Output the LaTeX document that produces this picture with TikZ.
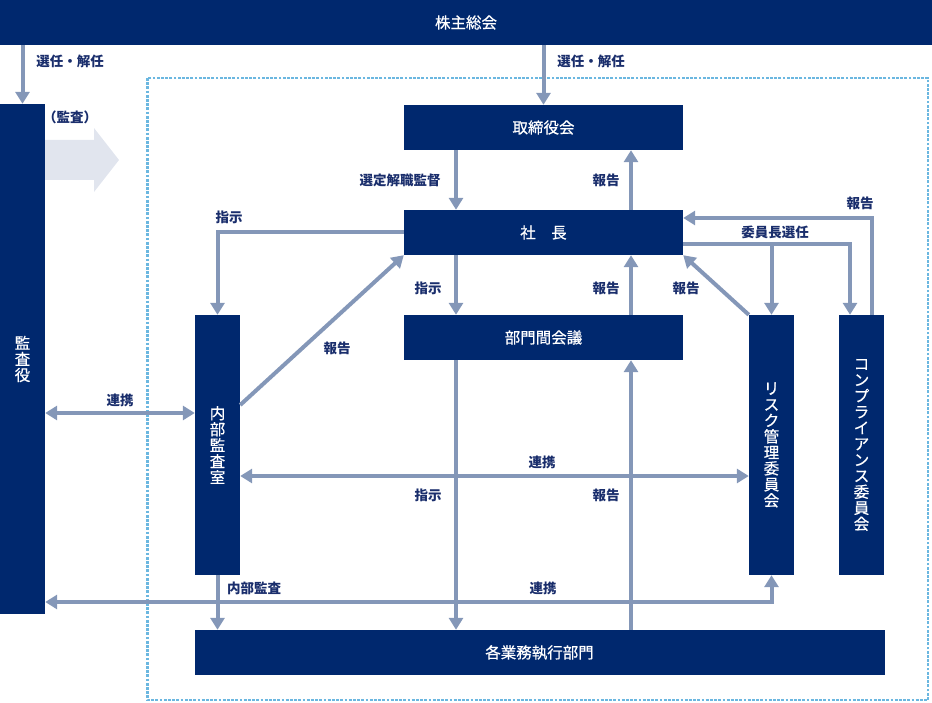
\documentclass[tikz,border=0pt]{standalone}
\usepackage{fontspec}
\setmainfont{Noto Sans CJK JP}
\newfontfamily\boxface[FakeBold=0.6]{Noto Sans CJK JP}
\usetikzlibrary{arrows.meta}
\definecolor{navy}{HTML}{00286E}
\definecolor{arr}{HTML}{8497B8}
\definecolor{lbl}{HTML}{1A2E6C}
\definecolor{dotc}{HTML}{6BB7E0}
\definecolor{pale}{HTML}{E1E5EE}
\newcommand\boxfnt{\boxface\fontsize{15.5}{16}\selectfont}
\newcommand\labfnt{\bfseries\fontsize{13.5}{16}\selectfont}
\begin{document}
\begin{tikzpicture}[x=1pt,y=-1pt,
  box/.style={fill=navy, text=white, inner sep=0pt, align=center, font=\boxfnt},
  lab/.style={text=lbl, inner sep=0pt, font=\labfnt},
  conn/.style={draw=arr, line width=4pt, -{Triangle[length=12pt,width=14pt]}},
  both/.style={draw=arr, line width=4pt, {Triangle[length=12pt,width=14pt]}-{Triangle[length=12pt,width=14pt]}}]
\useasboundingbox (0,0) rectangle (932,703);
% frame
\draw[dotc, line width=2.3pt, dash pattern=on 2.8pt off 1.4pt] (147.5,78) rectangle (928,700);
% pale arrow
\fill[pale] (45,140) -- (94,140) -- (94,128) -- (119,160) -- (94,192) -- (94,180) -- (45,180) -- cycle;
% boxes
\node[box, minimum width=932, minimum height=45] (kabu) at (466,22.5) {株主総会};
\node[box, minimum width=45, minimum height=510] (kansa) at (22.5,359) {監\\査\\役};
\node[box, minimum width=279, minimum height=45] (tori) at (543.5,127.5) {取締役会};
\node[box, minimum width=279, minimum height=45] (shacho) at (543.5,232.5) {社　長};
\node[box, minimum width=279, minimum height=45] (bumon) at (543.5,337.5) {部門間会議};
\node[box, minimum width=45, minimum height=260] (naibu) at (217.5,445) {内\\部\\監\\査\\室};
\node[box, minimum width=45, minimum height=260] (risk) at (771.5,445) {リ\\ス\\ク\\管\\理\\委\\員\\会};
\node[box, minimum width=45, minimum height=260] (comp) at (861.5,445) {コ\\ン\\プ\\ラ\\イ\\ア\\ン\\ス\\委\\員\\会};
\node[box, minimum width=690, minimum height=45] (gyomu) at (539.5,652.5) {各業務執行部門};
% helper coordinates
\coordinate (xA) at (456,0);
\coordinate (xB) at (631,0);
\coordinate (xF) at (850,0);
\coordinate (xG) at (872,0);
\coordinate (yD) at (0,405);
\coordinate (yE) at (0,244);
\coordinate (yH) at (0,218);
\coordinate (yI) at (0,413);
\coordinate (yJ) at (0,476);
\coordinate (yK) at (0,602);
% connectors
\draw[conn] (kabu.south -| kansa.north) -- (kansa.north);
\draw[conn] (kabu.south -| tori.north) -- (tori.north);
\draw[conn] (tori.south -| xA) -- (shacho.north -| xA);
\draw[conn] (shacho.north -| xB) -- (tori.south -| xB);
\draw[conn] (shacho.south -| xA) -- (bumon.north -| xA);
\draw[conn] (bumon.north -| xB) -- (shacho.south -| xB);
\draw[conn] (bumon.south -| xA) -- (gyomu.north -| xA);
\draw[conn] (gyomu.north -| xB) -- (bumon.south -| xB);
\draw[conn] (shacho.west) -| (naibu.north);
\draw[conn] (naibu.east |- yD) -- (shacho.south west);
\draw[conn] (risk.north west) -- (shacho.south east);
\draw[conn] (shacho.east |- yE) -| (risk.north);
\draw[conn] (shacho.east |- yE) -| (comp.north -| xF);
\draw[conn] (comp.north -| xG) |- (shacho.east |- yH);
\draw[both] (kansa.east |- yI) -- (naibu.west |- yI);
\draw[both] (naibu.east |- yJ) -- (risk.west |- yJ);
\draw[both] (kansa.east |- yK) -| (risk.south);
\draw[conn] (naibu.south) -- (naibu.south |- gyomu.north);
% labels
\node[lab] (l1) at (70,61) {選任・解任};
\node[lab] (l2) at (591,61) {選任・解任};
\node[lab] (l3) at (70,117) {（監査）};
\node[lab] (l4) at (400,180) {選定解職監督};
\node[lab] (l5) at (606,180) {報告};
\node[lab] (l6) at (229,217) {指示};
\node[lab] (l7) at (428,288) {指示};
\node[lab] (l8) at (606,288) {報告};
\node[lab] (l9) at (686,288) {報告};
\node[lab] (l10) at (775,232) {委員長選任};
\node[lab] (l11) at (860,203) {報告};
\node[lab] (l12) at (337,348) {報告};
\node[lab] (l13) at (120,400) {連携};
\node[lab] (l14) at (542,462) {連携};
\node[lab] (l15) at (428,495) {指示};
\node[lab] (l16) at (606,495) {報告};
\node[lab] (l17) at (254,588) {内部監査};
\node[lab] (l18) at (543,588) {連携};
\end{tikzpicture}
\end{document}
